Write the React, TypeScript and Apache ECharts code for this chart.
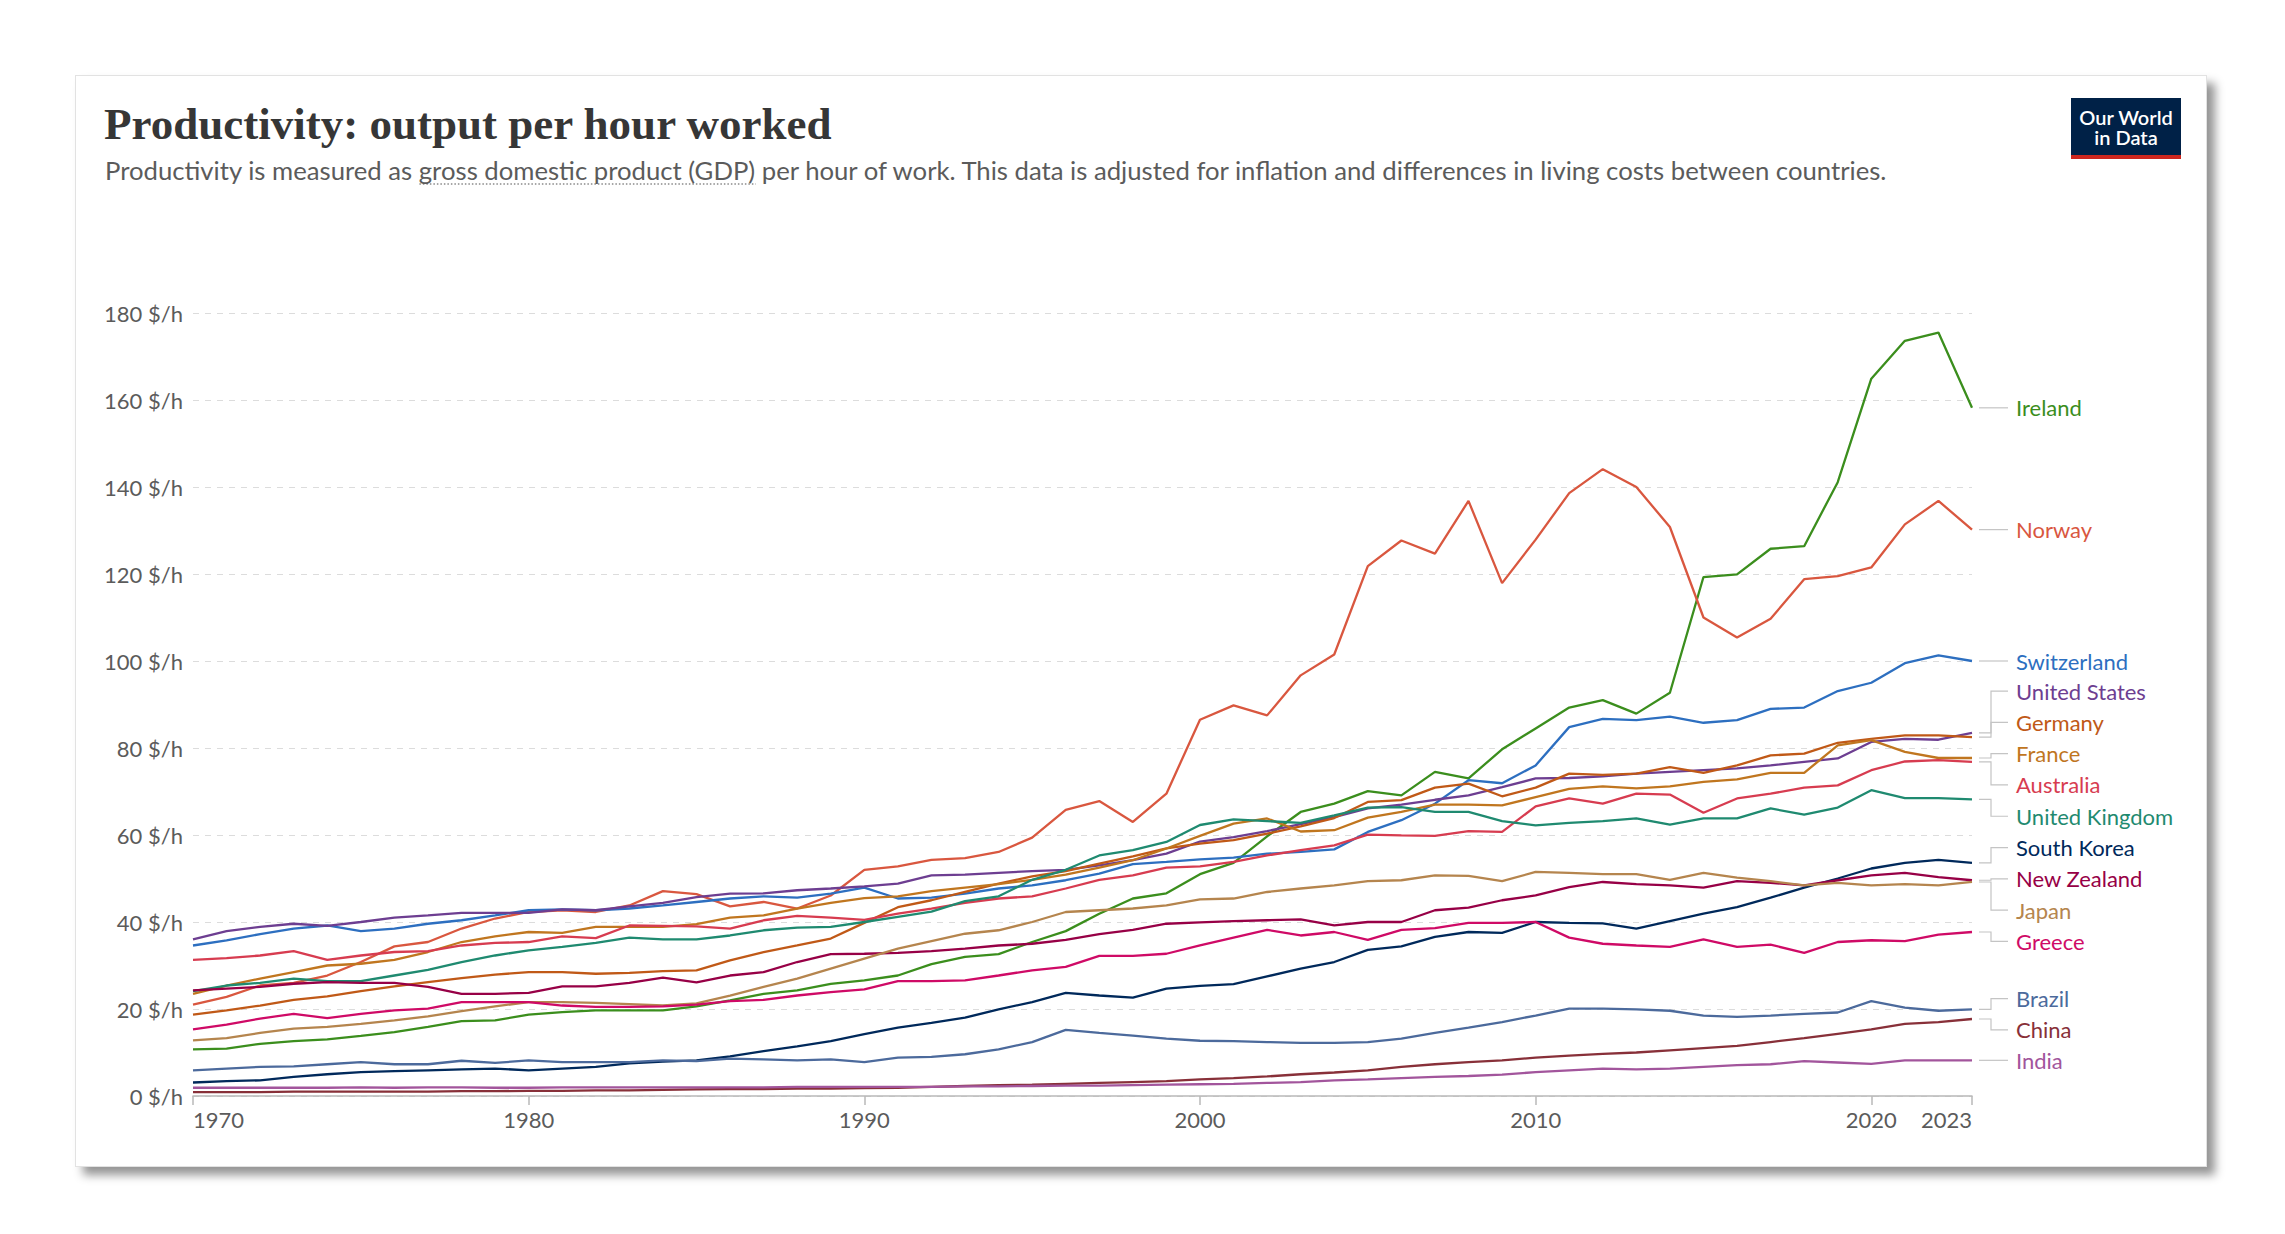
import { useEffect, useRef } from 'react';
import * as echarts from 'echarts';

// years shown on the x axis (1970 to 2023)
const years = Array.from({ length: 54 }, (_, i) => String(1970 + i));
const yearTicks = ['1970', '1980', '1990', '2000', '2010', '2020', '2023'];
const yMin = 0;
const yMax = 180;
const yStep = 20;

const ireland = [10.7, 10.9, 12.0, 12.6, 13.0, 13.8, 14.7, 15.9, 17.2, 17.4, 18.7, 19.3, 19.7, 19.7, 19.7, 20.6, 22.0, 23.5, 24.3, 25.8, 26.6, 27.7, 30.3, 32.0, 32.6, 35.4, 37.9, 41.9, 45.4, 46.6, 51.0, 53.6, 59.7, 65.3, 67.2, 70.1, 69.1, 74.5, 73.0, 79.7, 84.5, 89.3, 91.0, 87.9, 92.7, 119.3, 119.9, 125.8, 126.4, 141.1, 164.9, 173.6, 175.5, 158.2];
const norway = [21.0, 22.8, 25.4, 26.0, 27.7, 30.8, 34.4, 35.4, 38.5, 40.8, 42.3, 42.7, 42.3, 43.8, 47.1, 46.4, 43.6, 44.6, 43.1, 46.1, 52.0, 52.8, 54.3, 54.7, 56.1, 59.4, 65.8, 67.8, 63.0, 69.5, 86.5, 89.8, 87.5, 96.7, 101.5, 121.8, 127.7, 124.7, 136.8, 117.9, 127.9, 138.6, 144.1, 140.0, 130.8, 110.0, 105.4, 109.7, 118.8, 119.5, 121.5, 131.4, 136.8, 130.2];
const switzerland = [34.6, 35.8, 37.2, 38.5, 39.2, 37.9, 38.5, 39.6, 40.4, 41.5, 42.7, 42.9, 42.7, 43.1, 43.8, 44.6, 45.4, 45.9, 45.6, 46.5, 47.9, 45.4, 45.6, 46.5, 47.7, 48.4, 49.6, 51.1, 53.3, 53.8, 54.4, 54.8, 55.7, 56.1, 56.7, 60.7, 63.4, 67.2, 72.6, 71.9, 76.0, 84.8, 86.7, 86.4, 87.2, 85.8, 86.4, 89.0, 89.3, 93.1, 95.0, 99.5, 101.3, 100.0];
const unitedStates = [36.0, 37.9, 38.9, 39.6, 39.1, 40.0, 41.0, 41.5, 42.1, 42.1, 42.1, 42.9, 42.7, 43.6, 44.4, 45.7, 46.5, 46.6, 47.3, 47.7, 48.2, 48.8, 50.7, 50.9, 51.3, 51.7, 52.0, 53.0, 54.2, 55.7, 58.5, 59.5, 60.9, 62.5, 64.1, 66.1, 67.0, 68.1, 69.1, 71.0, 73.0, 73.1, 73.5, 74.1, 74.5, 74.9, 75.3, 76.0, 76.8, 77.6, 81.4, 82.1, 81.9, 83.5];
const germany = [18.7, 19.7, 20.8, 22.1, 22.9, 24.1, 25.2, 26.2, 27.1, 27.9, 28.5, 28.5, 28.1, 28.3, 28.7, 28.9, 31.2, 33.1, 34.6, 36.2, 39.8, 43.4, 45.0, 46.9, 48.8, 50.5, 51.7, 53.4, 55.1, 56.9, 58.0, 58.8, 60.3, 62.0, 63.9, 67.6, 68.0, 70.9, 71.8, 68.9, 70.9, 74.1, 73.8, 74.1, 75.6, 74.3, 76.0, 78.3, 78.7, 81.2, 82.1, 82.9, 82.9, 82.5];
const france = [23.5, 25.4, 27.0, 28.5, 30.0, 30.4, 31.3, 33.1, 35.4, 36.7, 37.7, 37.5, 38.9, 38.9, 38.9, 39.5, 41.0, 41.5, 43.1, 44.4, 45.5, 45.9, 47.1, 47.9, 48.7, 49.7, 50.9, 52.5, 54.2, 56.9, 59.8, 62.6, 63.8, 60.8, 61.1, 64.0, 65.3, 67.0, 67.0, 66.8, 68.7, 70.6, 71.2, 70.7, 71.2, 72.2, 72.8, 74.3, 74.3, 80.6, 81.8, 79.1, 77.7, 77.7];
const australia = [31.3, 31.7, 32.3, 33.3, 31.3, 32.3, 33.1, 33.3, 34.6, 35.2, 35.4, 36.7, 36.3, 39.2, 39.1, 39.0, 38.5, 40.4, 41.4, 41.0, 40.5, 41.9, 43.1, 44.4, 45.4, 45.9, 47.7, 49.7, 50.7, 52.5, 52.8, 53.8, 55.3, 56.5, 57.6, 60.1, 59.9, 59.8, 60.9, 60.7, 66.6, 68.4, 67.2, 69.5, 69.3, 65.1, 68.4, 69.5, 70.9, 71.4, 74.9, 76.9, 77.2, 76.8];
const unitedKingdom = [24.1, 25.4, 26.0, 27.0, 26.4, 26.4, 27.7, 29.0, 30.8, 32.3, 33.5, 34.3, 35.2, 36.4, 36.0, 36.0, 36.9, 38.1, 38.7, 38.9, 40.0, 41.2, 42.4, 44.8, 45.9, 49.7, 52.0, 55.3, 56.5, 58.4, 62.3, 63.6, 63.2, 62.8, 64.5, 66.3, 66.4, 65.3, 65.3, 63.2, 62.2, 62.8, 63.2, 63.8, 62.4, 63.8, 63.8, 66.1, 64.7, 66.3, 70.3, 68.5, 68.5, 68.2];
const southKorea = [3.1, 3.4, 3.6, 4.4, 5.0, 5.5, 5.7, 5.9, 6.1, 6.3, 5.9, 6.3, 6.7, 7.5, 7.9, 8.2, 9.1, 10.3, 11.4, 12.6, 14.2, 15.7, 16.8, 18.0, 19.9, 21.6, 23.7, 23.1, 22.6, 24.7, 25.3, 25.7, 27.5, 29.3, 30.8, 33.6, 34.4, 36.6, 37.7, 37.5, 40.0, 39.8, 39.7, 38.5, 40.2, 41.9, 43.4, 45.6, 47.9, 50.0, 52.3, 53.6, 54.3, 53.6];
const newZealand = [24.3, 24.7, 25.1, 25.8, 26.2, 26.0, 26.0, 25.1, 23.5, 23.5, 23.7, 25.2, 25.2, 26.0, 27.2, 26.1, 27.7, 28.5, 30.8, 32.6, 32.7, 32.9, 33.3, 33.9, 34.6, 35.0, 35.9, 37.2, 38.2, 39.6, 39.9, 40.2, 40.4, 40.6, 39.2, 40.0, 40.0, 42.7, 43.3, 45.0, 46.1, 48.0, 49.2, 48.7, 48.4, 47.9, 49.4, 49.0, 48.4, 49.6, 50.7, 51.3, 50.3, 49.6];
const japan = [12.8, 13.3, 14.5, 15.5, 15.9, 16.6, 17.4, 18.3, 19.5, 20.6, 21.6, 21.6, 21.4, 21.1, 20.8, 21.3, 23.1, 25.1, 27.0, 29.3, 31.6, 33.9, 35.6, 37.3, 38.1, 40.0, 42.3, 42.7, 43.1, 43.8, 45.2, 45.4, 46.9, 47.7, 48.4, 49.4, 49.6, 50.7, 50.6, 49.4, 51.5, 51.3, 51.0, 51.0, 49.7, 51.3, 50.2, 49.4, 48.4, 49.0, 48.4, 48.7, 48.4, 49.2];
const greece = [15.3, 16.4, 17.8, 18.9, 17.9, 18.9, 19.7, 20.1, 21.6, 21.6, 21.6, 20.8, 20.5, 20.5, 20.6, 21.0, 21.8, 22.1, 23.1, 23.9, 24.5, 26.4, 26.4, 26.6, 27.7, 28.9, 29.7, 32.2, 32.2, 32.7, 34.6, 36.4, 38.2, 36.9, 37.7, 35.9, 38.2, 38.6, 39.8, 39.8, 40.0, 36.4, 35.0, 34.6, 34.3, 36.0, 34.3, 34.8, 32.9, 35.4, 35.8, 35.6, 37.1, 37.7];
const brazil = [5.9, 6.3, 6.7, 6.8, 7.3, 7.8, 7.3, 7.3, 8.1, 7.6, 8.2, 7.8, 7.8, 7.8, 8.2, 8.0, 8.6, 8.4, 8.2, 8.4, 7.8, 8.8, 9.0, 9.6, 10.7, 12.4, 15.2, 14.5, 13.9, 13.2, 12.7, 12.6, 12.4, 12.2, 12.2, 12.4, 13.2, 14.5, 15.7, 17.0, 18.5, 20.1, 20.1, 19.9, 19.6, 18.5, 18.2, 18.5, 18.9, 19.2, 21.8, 20.3, 19.6, 19.9];
const china = [0.9, 0.9, 0.9, 1.0, 1.0, 1.0, 1.0, 1.0, 1.1, 1.1, 1.2, 1.2, 1.3, 1.3, 1.4, 1.5, 1.6, 1.6, 1.7, 1.7, 1.8, 1.9, 2.1, 2.3, 2.5, 2.6, 2.8, 3.0, 3.2, 3.4, 3.8, 4.1, 4.5, 5.0, 5.4, 5.9, 6.7, 7.3, 7.8, 8.2, 8.8, 9.3, 9.7, 10.0, 10.5, 11.0, 11.5, 12.4, 13.3, 14.3, 15.3, 16.6, 17.0, 17.7];
const india = [1.9, 1.9, 1.9, 1.9, 1.9, 2.0, 1.9, 2.0, 2.0, 1.9, 1.9, 2.0, 2.0, 2.0, 2.0, 2.0, 2.0, 2.0, 2.1, 2.1, 2.1, 2.1, 2.1, 2.2, 2.2, 2.3, 2.4, 2.4, 2.5, 2.6, 2.7, 2.8, 3.0, 3.2, 3.6, 3.8, 4.1, 4.4, 4.6, 4.9, 5.5, 5.9, 6.3, 6.1, 6.3, 6.7, 7.1, 7.3, 8.0, 7.7, 7.4, 8.2, 8.2, 8.2];

const countries = [
  { name: 'Ireland', color: '#3b8e1d', data: ireland },
  { name: 'Norway', color: '#d9573f', data: norway },
  { name: 'Switzerland', color: '#2d6fc0', data: switzerland },
  { name: 'United States', color: '#6d3e91', data: unitedStates },
  { name: 'Germany', color: '#c05917', data: germany },
  { name: 'France', color: '#c0761f', data: france },
  { name: 'Australia', color: '#d73c50', data: australia },
  { name: 'United Kingdom', color: '#1f8a70', data: unitedKingdom },
  { name: 'South Korea', color: '#00295b', data: southKorea },
  { name: 'New Zealand', color: '#970046', data: newZealand },
  { name: 'Japan', color: '#b5854e', data: japan },
  { name: 'Greece', color: '#cf0a66', data: greece },
  { name: 'Brazil', color: '#4c6a9c', data: brazil },
  { name: 'China', color: '#883039', data: china },
  { name: 'India', color: '#a2559c', data: india },
];

const TITLE = 'Productivity: output per hour worked';
const SUB_BEFORE = 'Productivity is measured as ';
const SUB_TERM = 'gross domestic product (GDP)';
const SUBTITLE = SUB_BEFORE + SUB_TERM + ' per hour of work. This data is adjusted for inflation and differences in living costs between countries.';

const SANS = 'Lato, "Noto Sans", sans-serif';
const GRAY = '#5b5b5b';
const SUB_SIZE = 25.7;
const LABEL_STEP = 31.3;
const LABEL_MIN_GAP = 28;

// spread end labels so they don't overlap, groups centred on their targets
function spreadLabels(targets: number[]): number[] {
  const sorted = targets.map((y, i) => ({ y, i })).sort((a, b) => a.y - b.y);
  let groups = sorted.map((m) => ({ members: [m], top: m.y }));
  let merged = true;
  while (merged) {
    merged = false;
    for (let g = 0; g < groups.length - 1; g++) {
      const a = groups[g];
      const b = groups[g + 1];
      const aBottom = a.top + (a.members.length - 1) * LABEL_STEP;
      if (b.top - aBottom < LABEL_MIN_GAP) {
        const members = [...a.members, ...b.members];
        const mean = members.reduce((s, m) => s + m.y, 0) / members.length;
        groups.splice(g, 2, { members, top: mean - ((members.length - 1) * LABEL_STEP) / 2 });
        merged = true;
        break;
      }
    }
  }
  const out: number[] = new Array(targets.length);
  groups.forEach((g) => g.members.forEach((m, k) => (out[m.i] = g.top + k * LABEL_STEP)));
  return out;
}

const showYear = (_: number, value: string) => yearTicks.includes(value);

export default function App() {
  const ref = useRef<HTMLDivElement>(null);

  useEffect(() => {
    if (!ref.current) return;
    const chart = echarts.init(ref.current, undefined, { renderer: 'svg' });

    chart.setOption({
      animation: false,
      textStyle: { fontFamily: SANS },
      title: [
        {
          text: TITLE,
          left: 104,
          top: 101,
          padding: 0,
          textStyle: { fontFamily: '"Liberation Serif", serif', fontSize: 45, fontWeight: 'bold', color: '#363636' },
        },
        {
          text: SUBTITLE,
          left: 105,
          top: 157,
          padding: 0,
          textStyle: { fontFamily: SANS, fontSize: SUB_SIZE, fontWeight: 'normal', color: GRAY },
        },
      ],
      grid: { left: 193, right: 313, top: 313, bottom: 138, containLabel: false },
      xAxis: {
        type: 'category',
        data: years,
        boundaryGap: false,
        axisLine: { lineStyle: { color: '#b8b8b8', width: 1.5 } },
        axisTick: { show: true, interval: showYear, length: 9, lineStyle: { color: '#b8b8b8', width: 1.5 } },
        axisLabel: {
          interval: showYear,
          alignMinLabel: 'left',
          alignMaxLabel: 'right',
          color: GRAY,
          fontFamily: SANS,
          fontSize: 22,
          margin: 12,
        },
        splitLine: { show: false },
      },
      yAxis: {
        type: 'value',
        min: yMin,
        max: yMax,
        interval: yStep,
        axisLine: { show: false },
        axisTick: { show: false },
        axisLabel: {
          formatter: (v: number) => `${v} $/h`,
          color: GRAY,
          fontFamily: SANS,
          fontSize: 22,
          margin: 10,
        },
        splitLine: { lineStyle: { color: '#dcdcdc', type: [6, 6], width: 1.2 } },
      },
      series: countries.map((c) => ({
        name: c.name,
        type: 'line',
        data: c.data,
        showSymbol: false,
        symbol: 'none',
        lineStyle: { color: c.color, width: 2.3 },
        itemStyle: { color: c.color },
        emphasis: { disabled: true },
      })),
    });

    // end labels with elbow connectors
    const last = years.length - 1;
    const ends = countries.map((c, i) => chart.convertToPixel({ seriesIndex: i }, [last, c.data[last]]) as number[]);
    const labelYs = spreadLabels(ends.map((p) => p[1]));
    const graphics: any[] = [];
    countries.forEach((c, i) => {
      const [ex, ey] = ends[i];
      const ly = labelYs[i];
      const pts = Math.abs(ly - ey) < 1
        ? [[ex + 7, ey], [ex + 36, ey]]
        : [[ex + 7, ey], [ex + 19, ey], [ex + 19, ly], [ex + 36, ly]];
      graphics.push({
        type: 'polyline',
        shape: { points: pts },
        style: { stroke: '#c4c4c4', lineWidth: 1.2 },
        silent: true,
      });
      graphics.push({
        type: 'text',
        x: ex + 44,
        y: ly,
        style: { text: c.name, fill: c.color, fontFamily: SANS, fontSize: 22, verticalAlign: 'middle', align: 'left' },
        silent: true,
      });
    });

    // dotted underline under the defined term in the subtitle
    const ctx = document.createElement('canvas').getContext('2d');
    if (ctx) {
      ctx.font = `${SUB_SIZE}px Lato`;
      const x0 = 105 + ctx.measureText(SUB_BEFORE).width;
      const w = ctx.measureText(SUB_TERM).width;
      graphics.push({
        type: 'line',
        shape: { x1: x0, y1: 184, x2: x0 + w, y2: 184 },
        style: { stroke: '#8a8a8a', lineWidth: 1.3, lineDash: [1.5, 2] },
        silent: true,
      });
    }

    // Our World in Data logo
    graphics.push({
      type: 'group',
      x: 2071,
      y: 98,
      children: [
        { type: 'rect', shape: { x: 0, y: 0, width: 110, height: 57 }, style: { fill: '#002147' } },
        { type: 'rect', shape: { x: 0, y: 57, width: 110, height: 4 }, style: { fill: '#ce261e' } },
        { type: 'text', x: 55, y: 19, style: { text: 'Our World', fill: '#fff', fontFamily: SANS, fontSize: 20, fontWeight: 600, align: 'center', verticalAlign: 'middle' } },
        { type: 'text', x: 55, y: 39, style: { text: 'in Data', fill: '#fff', fontFamily: SANS, fontSize: 20, fontWeight: 600, align: 'center', verticalAlign: 'middle' } },
      ],
    });

    chart.setOption({ graphic: graphics });

    return () => chart.dispose();
  }, []);

  return (
    <div style={{ position: 'fixed', left: 0, top: 0, width: 2285, height: 1234, background: '#fff' }}>
      <div
        style={{
          position: 'absolute',
          left: 75,
          top: 75,
          width: 2132,
          height: 1092,
          boxSizing: 'border-box',
          background: '#fff',
          border: '1px solid #e2e2e2',
          boxShadow: '8px 8px 9px rgba(0,0,0,0.42)',
        }}
      />
      <div ref={ref} style={{ position: 'absolute', left: 0, top: 0, width: 2285, height: 1234 }} />
    </div>
  );
}
